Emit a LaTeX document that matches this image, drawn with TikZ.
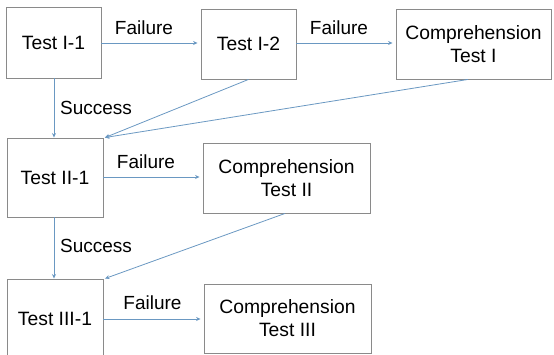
\documentclass[tikz,border=0pt]{standalone}
\usepackage{fontspec}
\setmainfont{Liberation Sans}
\usetikzlibrary{arrows.meta}
\definecolor{linkblue}{HTML}{6A98C2}
\definecolor{boxgray}{HTML}{8A8A8A}
\tikzset{
  stepbox/.style={draw=boxgray, line width=0.9pt, fill=white, inner sep=0pt,
    align=center, font=\fontsize{19.3}{23}\selectfont},
  edgelabel/.style={font=\fontsize{19}{22}\selectfont, inner sep=0pt},
  link/.style={draw=linkblue, line width=0.8pt, -{Stealth[length=4.5pt,width=4pt]}},
}
\begin{document}
\begin{tikzpicture}[x=1pt, y=-1pt]
  \useasboundingbox (0,0) rectangle (554,355);
  \clip (0,0) rectangle (554,355);

  % boxes
  \node[stepbox, minimum width=95pt, minimum height=71pt] (t11) at (53.5,42.5) {Test I-1};
  \node[stepbox, minimum width=95pt, minimum height=70pt] (t12) at (248.5,44) {Test I-2};
  \node[stepbox, minimum width=155pt, minimum height=70pt] (c1) at (473.5,44) {Comprehension\\Test I};
  \node[stepbox, minimum width=96pt, minimum height=79pt] (t21) at (55,177.5) {Test II-1};
  \node[stepbox, minimum width=167pt, minimum height=70pt] (c2) at (286.5,178) {Comprehension\\Test II};
  \node[stepbox, minimum width=96pt, minimum height=80pt] (t31) at (55,319) {Test III-1};
  \node[stepbox, minimum width=167pt, minimum height=69pt] (c3) at (287.5,318.5) {Comprehension\\Test III};

  % connectors
  \coordinate (t21in) at ([xshift=1.5pt]t21.north east);
  \coordinate (t31in) at ([xshift=1.5pt]t31.north east);
  \draw[link] (t11.east |- 0,43) -- ([xshift=-3pt]t12.west |- 0,43);
  \draw[link] (t12.east |- 0,43) -- ([xshift=-3pt]c1.west |- 0,43);
  \draw[link] (t11.south -| 54,0) -- (t21.north -| 54,0);
  \draw[link] (t12.south) -- (t21in);
  \draw[link] ([xshift=-5.5pt]c1.south) -- (t21in);
  \draw[link] (t21.east |- 0,177) -- ([xshift=-3pt]c2.west |- 0,177);
  \draw[link] (t21.south -| 54,0) -- (t31.north -| 54,0);
  \draw[link] ([xshift=-1.5pt]c2.south) -- (t31in);
  \draw[link] (t31.east |- 0,319) -- ([xshift=-3pt]c3.west |- 0,319);

  % labels
  \node[edgelabel] (f1) at (144,28) {Failure};
  \node[edgelabel] (f2) at (339,28) {Failure};
  \node[edgelabel] (s1) at (96,108) {Success};
  \node[edgelabel] (f3) at (146,162) {Failure};
  \node[edgelabel] (s2) at (96,246) {Success};
  \node[edgelabel] (f4) at (152.5,303) {Failure};
\end{tikzpicture}
\end{document}
